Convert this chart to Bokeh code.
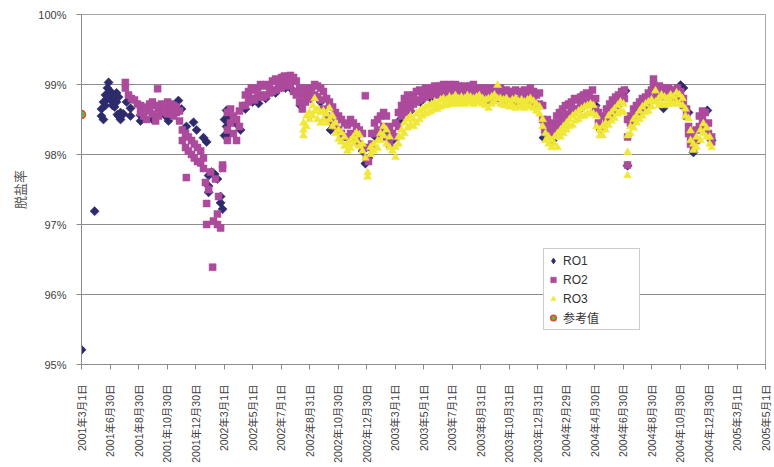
import math
from bokeh.plotting import figure
from bokeh.models import Range1d, FixedTicker, Legend, LegendItem
from bokeh.embed import file_html
from bokeh.resources import INLINE

# x positions are in axis-tick units (0 = 2001年3月1日, 24 = 2005年5月1日)
tick_labels = ["2001年3月1日", "2001年6月30日", "2001年8月30日", "2001年10月30日", "2001年12月30日",
               "2002年3月1日", "2002年5月1日", "2002年7月1日", "2002年8月31日", "2002年10月30日",
               "2002年12月30日", "2003年3月1日", "2003年5月1日", "2003年7月1日", "2003年8月31日",
               "2003年10月31日", "2003年12月31日", "2004年2月29日", "2004年4月30日", "2004年6月30日",
               "2004年8月30日", "2004年10月30日", "2004年12月30日", "2005年3月1日", "2005年5月1日"]
y_ticks = [95, 96, 97, 98, 99, 100]
y_labels = ["95%", "96%", "97%", "98%", "99%", "100%"]

ro1_x = [0.00, 0.46, 0.70, 0.70, 0.77, 0.77, 0.84, 0.84, 0.91, 0.91, 0.95, 0.95,
         1.02, 1.02, 1.09, 1.09, 1.16, 1.16, 1.23, 1.23, 1.26, 1.30, 1.30, 1.37, 1.37,
         1.47, 1.58, 1.72, 1.72, 2.07, 2.07, 2.49, 2.95, 3.05, 3.40, 3.51, 3.68, 3.93,
         4.04, 4.28, 4.39, 4.46, 4.46, 4.46, 4.56, 4.67, 4.77, 4.88, 4.88, 4.95,
         5.02, 5.02, 5.09, 5.09, 5.19, 5.19, 5.40, 5.58, 5.75, 6.00, 6.21, 6.46, 6.81,
         7.16, 7.40, 7.68, 8.04, 8.39, 8.74, 9.09, 9.37, 9.61, 9.86, 9.96, 10.07,
         10.32, 10.67, 10.91, 11.19, 11.54, 11.89, 12.25, 12.77, 13.30, 13.82, 14.35,
         14.88, 15.40, 15.93, 16.21, 16.53, 16.98, 17.51, 18.04, 18.21, 18.63, 19.09,
         19.16, 19.33, 19.79, 20.42, 20.67, 21.02, 21.12, 21.30, 21.37, 21.47, 21.72,
         21.96, 22.11]
ro1_y = [95.21, 97.19, 98.55, 98.65, 98.75, 98.50, 98.85, 98.70, 98.95, 98.80, 99.03, 98.88,
         98.90, 98.78, 98.85, 98.70, 98.80, 98.68, 98.88, 98.75, 98.57, 98.82, 98.55, 98.60, 98.50,
         98.58, 98.75, 98.66, 98.55, 98.56, 98.48, 98.50, 98.55, 98.48, 98.77, 98.65, 98.40, 98.46,
         98.35, 98.24, 98.18, 97.70, 97.46, 97.55, 97.75, 97.72, 97.65, 97.31, 97.40, 97.22,
         98.27, 98.50, 98.63, 98.40, 98.55, 98.30, 98.45, 98.35, 98.65, 98.75, 98.73, 98.80, 98.88,
         98.95, 98.92, 98.70, 98.80, 98.75, 98.35, 98.30, 98.22, 98.20, 98.05, 97.87, 97.95,
         98.25, 98.30, 98.20, 98.50, 98.62, 98.75, 98.80, 98.85, 98.82, 98.85, 98.78,
         98.75, 98.75, 98.70, 98.24, 98.20, 98.50, 98.65, 98.70, 98.35, 98.60, 98.91,
         97.84, 98.45, 98.65, 98.66, 98.85, 98.99, 98.95, 98.60, 98.34, 98.03, 98.55,
         98.63, 98.20]

ro2_x = [1.54, 1.54, 1.65, 1.75, 1.86, 1.96, 2.07, 2.07, 2.18, 2.18, 2.28, 2.28,
         2.39, 2.39, 2.49, 2.49, 2.60, 2.60, 2.67, 2.70, 2.70, 2.81, 2.81, 2.91, 2.91,
         3.02, 3.02, 3.12, 3.12, 3.23, 3.23, 3.33, 3.33, 3.44, 3.44, 3.54, 3.54,
         3.65, 3.65, 3.68, 3.75, 3.75, 3.86, 3.86, 3.96, 3.96, 4.07, 4.07, 4.18, 4.18,
         4.28, 4.28, 4.35, 4.39, 4.39, 4.46, 4.53, 4.60, 4.63, 4.70, 4.77, 4.77, 4.81,
         4.88, 4.95, 4.95, 5.12, 5.12, 5.12, 5.23, 5.23, 5.33, 5.33, 5.44, 5.44,
         5.54, 5.54, 5.65, 5.75, 5.75, 5.86, 5.86, 5.96, 5.96, 6.07, 6.07, 6.18, 6.18,
         6.28, 6.28, 6.39, 6.39, 6.49, 6.49, 6.60, 6.60, 6.70, 6.70, 6.81, 6.81,
         6.91, 6.91, 7.02, 7.02, 7.12, 7.12, 7.23, 7.23, 7.33, 7.33, 7.44, 7.44,
         7.54, 7.54, 7.65, 7.65, 7.75, 7.75, 7.86, 7.86, 7.96, 7.96, 8.07, 8.07,
         8.18, 8.18, 8.28, 8.28, 8.39, 8.39, 8.49, 8.49, 8.60, 8.60, 8.70, 8.70,
         8.81, 8.81, 8.91, 8.91, 9.02, 9.02, 9.12, 9.12, 9.23, 9.23, 9.33, 9.33,
         9.44, 9.44, 9.54, 9.54, 9.65, 9.65, 9.75, 9.75, 9.86, 9.86, 9.96, 10.00, 10.00,
         10.07, 10.18, 10.18, 10.28, 10.28, 10.39, 10.39, 10.49, 10.49, 10.60, 10.60,
         10.70, 10.70, 10.81, 10.81, 10.91, 11.02, 11.02, 11.12, 11.12, 11.23, 11.23,
         11.33, 11.33, 11.44, 11.44, 11.54, 11.54, 11.65, 11.65, 11.75, 11.75,
         11.86, 11.86, 11.96, 11.96, 12.07, 12.07, 12.18, 12.18, 12.28, 12.28,
         12.39, 12.39, 12.49, 12.49, 12.60, 12.60, 12.70, 12.70, 12.81, 12.81,
         12.91, 12.91, 13.02, 13.02, 13.12, 13.12, 13.23, 13.23, 13.33, 13.33,
         13.44, 13.44, 13.54, 13.54, 13.65, 13.65, 13.75, 13.75, 13.86, 13.86,
         13.96, 13.96, 14.07, 14.07, 14.18, 14.18, 14.28, 14.28, 14.39, 14.39,
         14.49, 14.49, 14.60, 14.60, 14.70, 14.70, 14.81, 14.81, 14.91, 14.91,
         15.02, 15.02, 15.12, 15.12, 15.23, 15.23, 15.33, 15.33, 15.44, 15.44,
         15.54, 15.54, 15.65, 15.65, 15.75, 15.75, 15.86, 15.86, 15.96, 15.96,
         16.07, 16.07, 16.18, 16.18, 16.25, 16.25, 16.35, 16.35, 16.46, 16.56, 16.56,
         16.67, 16.67, 16.77, 16.77, 16.88, 16.88, 16.98, 16.98, 17.09, 17.09,
         17.19, 17.19, 17.30, 17.30, 17.40, 17.40, 17.51, 17.51, 17.61, 17.61,
         17.72, 17.72, 17.82, 17.82, 17.93, 17.93, 18.04, 18.04, 18.14, 18.14, 18.21,
         18.32, 18.32, 18.42, 18.42, 18.53, 18.53, 18.63, 18.63, 18.74, 18.74,
         18.84, 18.84, 18.95, 18.95, 19.05, 19.05, 19.16, 19.16, 19.16, 19.26, 19.26,
         19.37, 19.37, 19.47, 19.47, 19.58, 19.58, 19.68, 19.68, 19.79, 19.79,
         19.89, 19.89, 20.00, 20.00, 20.07, 20.07, 20.18, 20.18, 20.28, 20.28,
         20.39, 20.39, 20.49, 20.49, 20.60, 20.60, 20.70, 20.70, 20.81, 20.81,
         20.91, 20.91, 21.02, 21.02, 21.12, 21.12, 21.23, 21.23, 21.30, 21.30,
         21.37, 21.37, 21.47, 21.47, 21.58, 21.58, 21.68, 21.68, 21.79, 21.79,
         21.89, 21.89, 22.00, 22.00, 22.11, 22.11]
ro2_y = [99.03, 98.95, 98.85, 98.80, 98.78, 98.72, 98.70, 98.60, 98.68, 98.55, 98.65, 98.50,
         98.72, 98.62, 98.75, 98.58, 98.70, 98.48, 98.94, 98.65, 98.55, 98.72, 98.60, 98.70, 98.62,
         98.75, 98.58, 98.72, 98.63, 98.70, 98.55, 98.68, 98.60, 98.62, 98.48, 98.35, 98.20,
         98.30, 98.10, 97.67, 98.25, 98.05, 98.20, 98.00, 98.15, 97.95, 98.10, 97.90, 98.05, 97.88,
         97.95, 97.80, 97.60, 97.30, 97.00, 97.50, 97.75, 96.39, 97.05, 97.65, 97.15, 97.00, 97.40,
         96.95, 97.85, 97.80, 98.60, 98.35, 98.20, 98.65, 98.45, 98.55, 98.30, 98.50, 98.20,
         98.62, 98.40, 98.70, 98.85, 98.70, 98.90, 98.75, 98.95, 98.80, 98.92, 98.78, 98.95, 98.82,
         99.00, 98.85, 98.98, 98.82, 99.00, 98.85, 98.98, 98.88, 99.05, 98.90, 99.08, 98.92,
         99.05, 98.95, 99.10, 98.95, 99.12, 99.00, 99.10, 98.98, 99.13, 99.00, 99.10, 98.90,
         99.05, 98.85, 98.95, 98.75, 98.85, 98.65, 98.95, 98.75, 98.90, 98.80, 98.95, 98.82,
         99.00, 98.85, 98.98, 98.82, 98.95, 98.78, 98.90, 98.65, 98.80, 98.55, 98.75, 98.50,
         98.68, 98.45, 98.60, 98.40, 98.55, 98.35, 98.50, 98.30, 98.45, 98.25, 98.42, 98.25,
         98.50, 98.30, 98.45, 98.28, 98.40, 98.20, 98.35, 98.15, 98.30, 98.10, 98.84, 98.10, 97.95,
         97.90, 98.30, 98.15, 98.45, 98.30, 98.50, 98.35, 98.55, 98.30, 98.60, 98.40,
         98.55, 98.25, 98.40, 98.15, 98.30, 98.45, 98.25, 98.60, 98.40, 98.70, 98.55,
         98.80, 98.60, 98.85, 98.70, 98.80, 98.65, 98.85, 98.72, 98.90, 98.75,
         98.92, 98.78, 98.90, 98.80, 98.95, 98.82, 98.92, 98.85, 98.95, 98.85,
         98.98, 98.88, 98.95, 98.85, 98.98, 98.88, 99.00, 98.90, 98.98, 98.88,
         99.00, 98.90, 98.98, 98.90, 99.00, 98.88, 98.98, 98.90, 98.95, 98.85,
         98.98, 98.88, 98.95, 98.85, 98.98, 98.90, 99.00, 98.88, 98.95, 98.85,
         98.92, 98.82, 98.95, 98.82, 98.90, 98.78, 98.95, 98.85, 98.92, 98.80,
         98.95, 98.82, 98.92, 98.80, 98.95, 98.82, 98.90, 98.78, 98.92, 98.80,
         98.88, 98.78, 98.90, 98.80, 98.92, 98.78, 98.90, 98.75, 98.88, 98.78,
         98.92, 98.80, 98.90, 98.78, 98.95, 98.80, 98.90, 98.75, 98.85, 98.70,
         98.88, 98.72, 98.70, 98.50, 98.45, 98.35, 98.50, 98.30, 98.40, 98.45, 98.30,
         98.55, 98.40, 98.60, 98.45, 98.65, 98.50, 98.70, 98.55, 98.72, 98.58,
         98.75, 98.62, 98.80, 98.65, 98.78, 98.65, 98.82, 98.70, 98.85, 98.72,
         98.88, 98.75, 98.85, 98.72, 98.92, 98.78, 98.80, 98.65, 98.60, 98.45, 98.40,
         98.55, 98.40, 98.65, 98.50, 98.72, 98.55, 98.78, 98.65, 98.82, 98.70,
         98.85, 98.72, 98.90, 98.78, 98.92, 98.80, 98.50, 98.25, 97.85, 98.45, 98.55,
         98.65, 98.50, 98.70, 98.60, 98.75, 98.62, 98.80, 98.68, 98.82, 98.72,
         98.88, 98.75, 98.92, 98.80, 99.08, 99.00, 98.95, 98.82, 98.98, 98.88,
         98.95, 98.85, 98.92, 98.82, 98.95, 98.85, 98.90, 98.80, 98.92, 98.82,
         98.95, 98.85, 98.90, 98.78, 98.80, 98.70, 98.65, 98.55, 98.40, 98.30,
         98.25, 98.15, 98.10, 98.30, 98.35, 98.20, 98.55, 98.40, 98.62, 98.50,
         98.60, 98.40, 98.45, 98.30, 98.25, 98.18]

ro3_x = [7.79, 7.79, 7.79, 7.89, 7.89, 8.00, 8.00, 8.11, 8.11, 8.18, 8.18, 8.28, 8.28,
         8.39, 8.39, 8.49, 8.49, 8.60, 8.60, 8.70, 8.70, 8.81, 8.81, 8.91, 8.91,
         9.02, 9.02, 9.12, 9.12, 9.23, 9.23, 9.33, 9.33, 9.44, 9.44, 9.54, 9.54,
         9.65, 9.65, 9.75, 9.75, 9.86, 9.86, 9.96, 10.04, 10.04, 10.14, 10.14,
         10.25, 10.25, 10.39, 10.39, 10.49, 10.49, 10.60, 10.60, 10.70, 10.70,
         10.81, 10.81, 10.91, 11.02, 11.02, 11.12, 11.12, 11.23, 11.23, 11.33, 11.33,
         11.44, 11.44, 11.54, 11.54, 11.65, 11.65, 11.75, 11.75, 11.86, 11.86,
         11.96, 11.96, 12.07, 12.07, 12.18, 12.18, 12.28, 12.28, 12.39, 12.39,
         12.49, 12.49, 12.60, 12.60, 12.70, 12.70, 12.81, 12.81, 12.91, 12.91,
         13.02, 13.02, 13.12, 13.12, 13.23, 13.23, 13.33, 13.33, 13.44, 13.44,
         13.54, 13.54, 13.65, 13.65, 13.75, 13.75, 13.86, 13.86, 13.96, 13.96,
         14.07, 14.07, 14.18, 14.18, 14.28, 14.28, 14.39, 14.39, 14.49, 14.49,
         14.60, 14.60, 14.70, 14.70, 14.81, 14.81, 14.91, 14.91, 15.02, 15.02,
         15.12, 15.12, 15.23, 15.23, 15.33, 15.33, 15.44, 15.44, 15.54, 15.54,
         15.65, 15.65, 15.75, 15.75, 15.86, 15.86, 15.96, 15.96, 16.07, 16.07,
         16.18, 16.18, 16.28, 16.28, 16.39, 16.39, 16.49, 16.49, 16.60, 16.60,
         16.70, 16.70, 16.81, 16.81, 16.91, 16.91, 17.02, 17.02, 17.12, 17.12,
         17.23, 17.23, 17.33, 17.33, 17.44, 17.44, 17.54, 17.54, 17.65, 17.65,
         17.75, 17.75, 17.86, 17.86, 17.96, 17.96, 18.07, 18.07, 18.18, 18.18,
         18.28, 18.28, 18.39, 18.39, 18.49, 18.49, 18.60, 18.60, 18.70, 18.70,
         18.81, 18.81, 18.91, 18.91, 19.02, 19.02, 19.16, 19.16, 19.16, 19.26, 19.26,
         19.37, 19.37, 19.47, 19.47, 19.58, 19.58, 19.68, 19.68, 19.79, 19.79,
         19.89, 19.89, 20.00, 20.00, 20.14, 20.14, 20.25, 20.25, 20.35, 20.35,
         20.46, 20.46, 20.56, 20.56, 20.67, 20.67, 20.77, 20.77, 20.88, 20.88,
         20.98, 20.98, 21.09, 21.09, 21.19, 21.19, 21.30, 21.37, 21.37, 21.47, 21.47,
         21.58, 21.58, 21.72, 21.72, 21.82, 21.82, 21.93, 21.93, 22.04, 22.04, 22.11]
ro3_y = [98.27, 98.35, 98.45, 98.55, 98.40, 98.60, 98.50, 98.70, 98.55, 98.80, 98.62, 98.65, 98.50,
         98.60, 98.45, 98.62, 98.50, 98.58, 98.45, 98.66, 98.50, 98.55, 98.40, 98.45, 98.30,
         98.35, 98.22, 98.31, 98.18, 98.25, 98.12, 98.15, 98.05, 98.09, 98.20, 98.25, 98.15,
         98.31, 98.20, 98.28, 98.12, 98.15, 98.05, 97.95, 97.74, 97.68, 98.00, 98.10,
         98.15, 98.05, 98.09, 98.20, 98.30, 98.20, 98.27, 98.40, 98.35, 98.15,
         98.25, 98.10, 98.05, 97.96, 98.10, 98.25, 98.15, 98.35, 98.25, 98.45, 98.30,
         98.50, 98.38, 98.55, 98.42, 98.50, 98.40, 98.58, 98.45, 98.62, 98.50,
         98.65, 98.55, 98.68, 98.58, 98.70, 98.60, 98.72, 98.62, 98.75, 98.65,
         98.72, 98.65, 98.78, 98.68, 98.80, 98.70, 98.78, 98.70, 98.82, 98.72,
         98.80, 98.72, 98.84, 98.74, 98.80, 98.72, 98.82, 98.75, 98.80, 98.72,
         98.84, 98.75, 98.82, 98.74, 98.80, 98.72, 98.82, 98.75, 98.84, 98.74,
         98.80, 98.72, 98.78, 98.70, 98.66, 98.80, 98.82, 98.72, 98.85, 98.75,
         98.99, 98.80, 98.80, 98.72, 98.78, 98.70, 98.80, 98.70, 98.75, 98.68,
         98.78, 98.70, 98.80, 98.66, 98.76, 98.68, 98.78, 98.70, 98.75, 98.66,
         98.78, 98.70, 98.80, 98.68, 98.76, 98.66, 98.72, 98.62, 98.68, 98.58,
         98.50, 98.40, 98.30, 98.20, 98.25, 98.15, 98.20, 98.10, 98.15, 98.25,
         98.10, 98.30, 98.35, 98.25, 98.40, 98.30, 98.45, 98.35, 98.50, 98.40,
         98.55, 98.42, 98.58, 98.48, 98.62, 98.50, 98.65, 98.55, 98.68, 98.55,
         98.70, 98.58, 98.72, 98.60, 98.70, 98.58, 98.55, 98.40, 98.35, 98.27,
         98.27, 98.40, 98.45, 98.35, 98.55, 98.42, 98.60, 98.48, 98.65, 98.52,
         98.70, 98.58, 98.75, 98.62, 98.72, 98.60, 98.27, 98.03, 97.70, 98.40, 98.30,
         98.50, 98.38, 98.55, 98.45, 98.62, 98.50, 98.68, 98.55, 98.72, 98.60,
         98.75, 98.62, 98.78, 98.68, 98.91, 98.75, 98.80, 98.70, 98.85, 98.72,
         98.82, 98.70, 98.80, 98.72, 98.85, 98.75, 98.82, 98.72, 98.88, 98.75,
         98.85, 98.72, 98.80, 98.70, 98.65, 98.55, 98.51, 98.34, 98.20, 98.06, 98.15,
         98.25, 98.10, 98.35, 98.20, 98.44, 98.30, 98.38, 98.25, 98.25, 98.15, 98.10]

ref_x = [0.0]
ref_y = [98.57]

FONT = "'Liberation Sans', 'Noto Sans CJK SC'"
GRID = "#8c8c8c"
C1, C2, C3 = "#2E2B6C", "#AC4A9C", "#F0E838"

p = figure(width=772, height=467, output_backend="svg", toolbar_location=None,
           x_range=Range1d(0, 24), y_range=Range1d(95, 100),
           min_border_left=81, min_border_right=7, min_border_top=14, min_border_bottom=103)
p.background_fill_color = "white"
p.outline_line_color = "#a6a6a6"

r1 = p.scatter(ro1_x, ro1_y, marker="square", angle=math.pi / 4, size=6.5,
               fill_color=C1, line_color=C1, line_width=0.5)
# legend key for RO1: a diamond drawn on the series' first point
r1_key = p.scatter(ro1_x[:1], ro1_y[:1], marker="diamond", size=9, fill_color=C1, line_color=C1)
r2 = p.scatter(ro2_x, ro2_y, marker="square", size=7, fill_color=C2, line_color=C2, line_width=0.5)
r3 = p.scatter(ro3_x, ro3_y, marker="triangle", size=8, fill_color=C3, line_color=C3, line_width=0.5)
r4 = p.scatter(ref_x, ref_y, marker="circle", size=8, fill_color="#5CB947", line_color="#E5462E", line_width=1.5)

p.xgrid.visible = False
p.ygrid.ticker = FixedTicker(ticks=y_ticks)
p.ygrid.grid_line_color = GRID

p.xaxis.ticker = FixedTicker(ticks=list(range(len(tick_labels))))
p.xaxis.major_label_overrides = {i: s for i, s in enumerate(tick_labels)}
p.xaxis.major_label_orientation = math.pi / 2
p.xaxis.major_label_standoff = 15

p.yaxis.ticker = FixedTicker(ticks=y_ticks)
p.yaxis.major_label_overrides = {t: s for t, s in zip(y_ticks, y_labels)}
p.yaxis.major_label_standoff = 10
p.yaxis.axis_label = "脱盐率"
p.yaxis.axis_label_text_font = FONT
p.yaxis.axis_label_text_font_style = "normal"
p.yaxis.axis_label_text_font_size = "13px"
p.yaxis.axis_label_text_color = "#555555"
p.yaxis.axis_label_standoff = 7

for ax in (p.xaxis[0], p.yaxis[0]):
    ax.axis_line_color = GRID
    ax.major_tick_line_color = GRID
    ax.major_tick_out = 5
    ax.major_tick_in = 0
    ax.minor_tick_line_color = None
    ax.major_label_text_font = FONT
    ax.major_label_text_color = "#404040"
p.xaxis.major_label_text_font_size = "10.5px"
p.yaxis.major_label_text_font_size = "11px"

legend = Legend(items=[LegendItem(label="RO1", renderers=[r1_key]),
                       LegendItem(label="RO2", renderers=[r2]),
                       LegendItem(label="RO3", renderers=[r3]),
                       LegendItem(label="参考值", renderers=[r4])],
                location=(462, 34), orientation="vertical",
                padding=2, spacing=0, margin=0,
                glyph_height=19, glyph_width=14, label_height=19, label_width=74,
                label_standoff=3, label_text_font=FONT, label_text_font_size="12px",
                label_text_color="#333333", border_line_color="#9a9a9a",
                background_fill_color="white", background_fill_alpha=1.0)
p.add_layout(legend, "center")

open("out.html", "w").write(file_html(p, INLINE))
